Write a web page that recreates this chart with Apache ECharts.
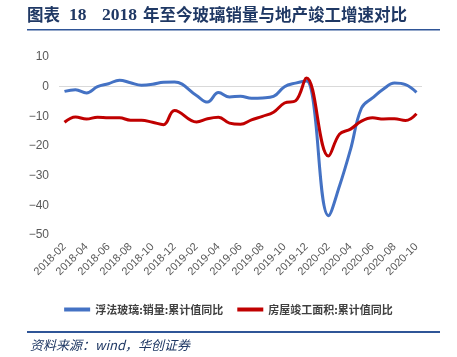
<!DOCTYPE html>
<html><head><meta charset="utf-8">
<script src="https://cdn.jsdelivr.net/npm/echarts@6/dist/echarts.min.js"></script>
<style>html,body{margin:0;padding:0;background:#fff}#c{width:457px;height:357px}</style>
</head><body><div id="c"></div>
<script>
const categories = ['2018-02','2018-03','2018-04','2018-05','2018-06','2018-07','2018-08','2018-09','2018-10','2018-11','2018-12','2019-01',
'2019-02','2019-03','2019-04','2019-05','2019-06','2019-07','2019-08','2019-09','2019-10','2019-11','2019-12','2020-01',
'2020-02','2020-03','2020-04','2020-05','2020-06','2020-07','2020-08','2020-09','2020-10'];
const glassSales = [-1.6,-1.0,-2.1,0.0,1.0,2.2,1.3,0.5,0.8,1.5,1.6,null,
-3.0,-5.2,-2.0,-3.5,-3.2,-3.9,-3.8,-3.3,0.0,1.2,1.9,null,
-43.5,-33.5,-21.2,-7.2,-3.8,-0.8,1.2,0.7,-1.9];
const completion = [-12.0,-10.2,-10.9,-10.3,-10.5,-10.5,-11.3,-11.3,-12.0,-12.8,-8.0,null,
-11.9,-10.8,-10.3,-12.3,-12.7,-11.2,-10.0,-8.6,-5.5,-4.8,2.9,null,
-23.4,-16.0,-14.3,-11.6,-10.5,-10.9,-10.8,-11.4,-9.1];
const seriesNames = ['浮法玻璃:销量:累计值同比','房屋竣工面积:累计值同比'];
const yTicks = {min:-50,max:10,interval:10};

const chart = echarts.init(document.getElementById('c'));
const navy = '#1F3864';
const clear = 'rgba(0,0,0,0)';
chart.setOption({
  animation:false,
  backgroundColor:'#fff',
  grid:{left:59,right:35,top:57,bottom:122,containLabel:false},
  xAxis:{type:'category',data:categories,boundaryGap:true,
    axisLine:{show:false},axisTick:{show:false},
    axisLabel:{interval:1,rotate:45,color:'#595959',fontSize:11,fontFamily:'Liberation Sans, Arial',margin:10}},
  yAxis:{type:'value',min:yTicks.min,max:yTicks.max,interval:yTicks.interval,
    axisLine:{show:false},axisTick:{show:false},
    axisLabel:{color:'#595959',fontSize:12,fontFamily:'Liberation Sans, Arial',margin:10,
      formatter:v=>String(v).replace('-','−')},
    splitLine:{show:true,lineStyle:{width:1,color:[clear,clear,clear,clear,clear,'#d9d9d9',clear]}}},
  legend:{top:299,left:'center',itemWidth:26,itemHeight:4,itemGap:14,icon:'rect',
    textStyle:{fontSize:11,fontWeight:'bold',color:'#404040',fontFamily:'Noto Sans CJK SC'},
    data:seriesNames},
  series:[
    {name:seriesNames[0],type:'line',data:glassSales,smooth:0.4,connectNulls:true,showSymbol:false,
      lineStyle:{width:3,color:'#4472C4'},itemStyle:{color:'#4472C4'}},
    {name:seriesNames[1],type:'line',data:completion,smooth:0.4,connectNulls:true,showSymbol:false,
      lineStyle:{width:3,color:'#C00000'},itemStyle:{color:'#C00000'}}
  ],
  graphic:[
    {type:'text',left:27,top:6,style:{text:'图表',fontSize:16.5,fontWeight:'bold',fill:navy,fontFamily:'Noto Sans CJK SC'}},
    {type:'text',left:69,top:6,style:{text:'18',fontSize:17.5,fontWeight:'bold',fill:navy,fontFamily:'Liberation Serif'}},
    {type:'text',left:102,top:6,style:{text:'2018',fontSize:17.5,fontWeight:'bold',fill:navy,fontFamily:'Liberation Serif'}},
    {type:'text',left:143,top:6,style:{text:'年至今玻璃销量与地产竣工增速对比',fontSize:16.5,fontWeight:'bold',fill:navy,fontFamily:'Noto Sans CJK SC'}},
    {type:'rect',shape:{x:27,y:29,width:413,height:1.5},style:{fill:'#2F5597'}},
    {type:'rect',shape:{x:27,y:331,width:413,height:2},style:{fill:'#2F5597'}},
    {type:'text',left:30,top:339,style:{text:'资料来源：wind，华创证券',fontSize:13,fontStyle:'italic',fill:navy,fontFamily:'Noto Sans CJK SC'}}
  ]
});
</script></body></html>
